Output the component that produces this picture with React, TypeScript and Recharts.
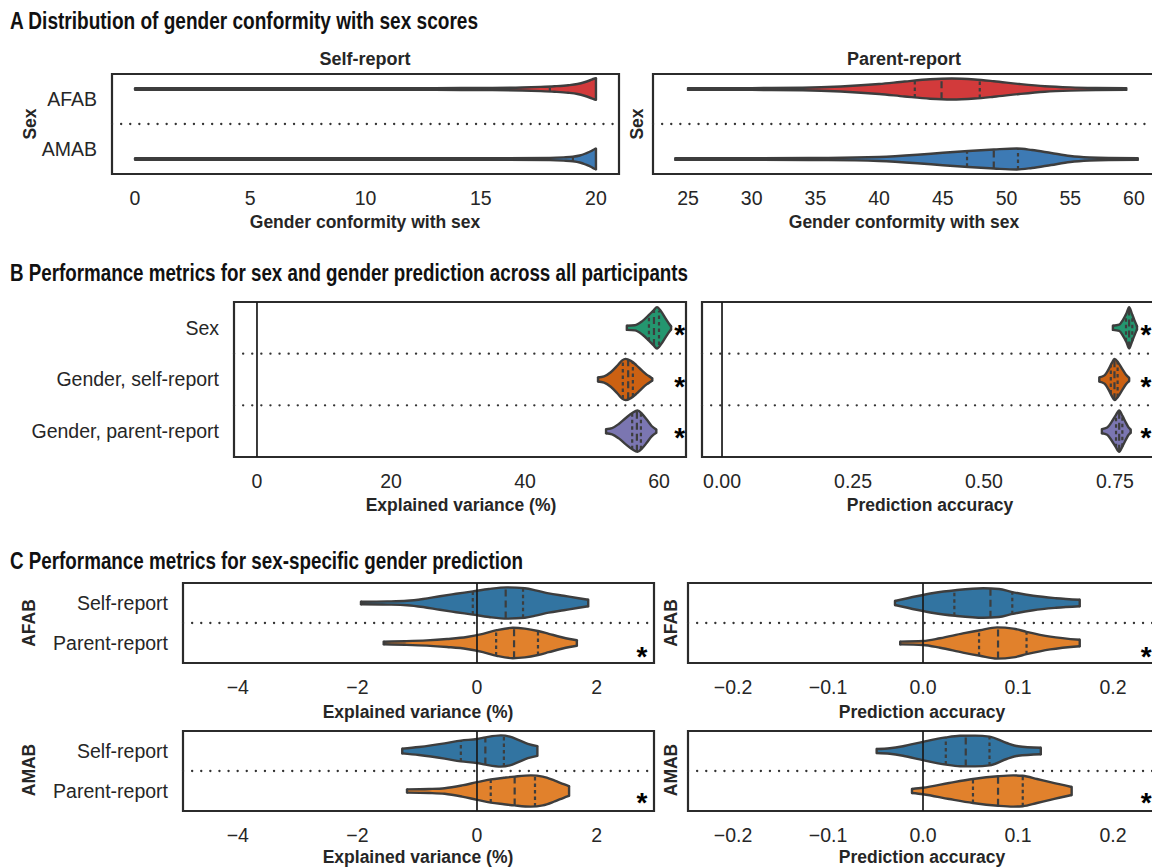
import React from 'react';
import { ComposedChart, Area, XAxis, YAxis, ReferenceLine, ReferenceArea, ReferenceDot } from 'recharts';

type Pt = [number, number]; // [value, half-width in category units]

// ---------- categories & ticks ----------
const sexCats = ['AFAB', 'AMAB'];
const predCats = ['Sex', 'Gender, self-report', 'Gender, parent-report'];
const reportCats = ['Self-report', 'Parent-report'];
const aSelfTicks = [0, 5, 10, 15, 20];
const aParTicks = [25, 30, 35, 40, 45, 50, 55, 60];
const bEvTicks = [0, 20, 40, 60];
const bAccTicks = [0, 0.25, 0.5, 0.75];
const cEvTicks = [-4, -2, 0, 2];
const cAccTicks = [-0.2, -0.1, 0, 0.1, 0.2];

// ---------- Panel A: self-report ----------
const aSelfAFAB: Pt[] = [[0, 0.015], [8, 0.015], [13, 0.018], [15.5, 0.022], [16.8, 0.03], [17.6, 0.042], [18.2, 0.055], [18.8, 0.075], [19.2, 0.1], [19.5, 0.135], [19.75, 0.175], [19.92, 0.205], [20, 0.215]];
const aSelfAFABq: Pt[] = [[18.0, 0.05]];
const aSelfAMAB: Pt[] = [[0, 0.015], [10, 0.015], [16, 0.017], [18, 0.022], [18.6, 0.032], [19, 0.045], [19.3, 0.07], [19.55, 0.11], [19.8, 0.16], [19.93, 0.195], [20, 0.205]];
const aSelfAMABq: Pt[] = [[19.0, 0.045]];
// ---------- Panel A: parent-report ----------
const aParAFAB: Pt[] = [[25.0, 0.018], [30, 0.018], [34, 0.025], [37, 0.05], [40, 0.1], [42, 0.15], [44, 0.195], [45.7, 0.21], [47.5, 0.19], [49, 0.155], [51, 0.1], [53, 0.055], [55, 0.032], [57, 0.022], [59.4, 0.018]];
const aParAFABq: Pt[] = [[42.8, 0.17], [44.9, 0.205], [47.9, 0.18]];
const aParAMAB: Pt[] = [[24.0, 0.018], [30, 0.018], [36, 0.022], [40, 0.04], [43, 0.085], [45, 0.125], [47, 0.16], [49, 0.19], [50.8, 0.21], [52, 0.18], [53.5, 0.12], [55, 0.06], [56.5, 0.03], [58, 0.02], [60.3, 0.018]];
const aParAMABq: Pt[] = [[46.9, 0.155], [49.0, 0.19], [50.9, 0.21]];

// ---------- Panel B: explained variance ----------
const bEvSex: Pt[] = [[55.2, 0.04], [56.4, 0.05], [57.5, 0.13], [58.5, 0.25], [59.2, 0.34], [59.7, 0.4], [60.3, 0.32], [61, 0.18], [61.5, 0.08], [61.8, 0.03]];
const bEvSexQ: Pt[] = [[58.5, 0.25], [59.25, 0.35], [60.0, 0.33]];
const bEvSelf: Pt[] = [[50.9, 0.04], [51.8, 0.06], [52.8, 0.14], [53.8, 0.27], [54.5, 0.37], [55, 0.4], [55.8, 0.36], [56.6, 0.28], [57.4, 0.18], [58.2, 0.09], [58.8, 0.04], [59, 0.02]];
const bEvSelfQ: Pt[] = [[54.6, 0.37], [55.4, 0.38], [56.1, 0.33]];
const bEvPar: Pt[] = [[52.1, 0.04], [53, 0.06], [54, 0.14], [55, 0.25], [56, 0.35], [56.8, 0.4], [57.5, 0.33], [58.2, 0.22], [58.9, 0.1], [59.6, 0.03]];
const bEvParQ: Pt[] = [[56.0, 0.35], [56.7, 0.4], [57.3, 0.35]];
const bEvStars: Pt[] = [[63.1, 0.02], [63.1, 1.03], [63.1, 2.02]];
// ---------- Panel B: prediction accuracy ----------
const bAccSex: Pt[] = [[0.746, 0.04], [0.758, 0.06], [0.765, 0.15], [0.772, 0.28], [0.777, 0.4], [0.782, 0.28], [0.787, 0.15], [0.792, 0.03]];
const bAccSexQ: Pt[] = [[0.771, 0.26], [0.777, 0.4], [0.783, 0.26]];
const bAccSelf: Pt[] = [[0.72, 0.04], [0.73, 0.08], [0.738, 0.2], [0.744, 0.32], [0.749, 0.4], [0.756, 0.33], [0.764, 0.2], [0.771, 0.09], [0.777, 0.03]];
const bAccSelfQ: Pt[] = [[0.742, 0.27], [0.749, 0.4], [0.755, 0.34]];
const bAccPar: Pt[] = [[0.725, 0.04], [0.735, 0.07], [0.743, 0.17], [0.751, 0.3], [0.758, 0.4], [0.764, 0.3], [0.771, 0.16], [0.776, 0.07], [0.78, 0.03]];
const bAccParQ: Pt[] = [[0.752, 0.31], [0.758, 0.4], [0.764, 0.3]];
const bAccStars: Pt[] = [[0.809, 0.02], [0.809, 1.03], [0.809, 2.02]];

// ---------- Panel C: AFAB ----------
const cEvAfabSelf: Pt[] = [[-1.94, 0.033], [-1.5, 0.04], [-1.17, 0.055], [-0.9, 0.1], [-0.62, 0.17], [-0.35, 0.23], [-0.07, 0.29], [0.2, 0.35], [0.5, 0.39], [0.8, 0.37], [1.0, 0.31], [1.2, 0.24], [1.45, 0.18], [1.7, 0.12], [1.86, 0.08]];
const cEvAfabSelfQ: Pt[] = [[-0.07, 0.29], [0.48, 0.39], [0.77, 0.37]];
const cEvAfabPar: Pt[] = [[-1.56, 0.033], [-1.2, 0.045], [-0.84, 0.065], [-0.5, 0.1], [-0.17, 0.15], [0.1, 0.23], [0.33, 0.32], [0.6, 0.38], [0.8, 0.36], [1.02, 0.3], [1.2, 0.23], [1.4, 0.15], [1.55, 0.1], [1.67, 0.07]];
const cEvAfabParQ: Pt[] = [[0.32, 0.31], [0.62, 0.38], [1.02, 0.3]];
const cAccAfabSelf: Pt[] = [[-0.0295, 0.05], [-0.0067, 0.17], [0.011, 0.25], [0.034, 0.32], [0.0635, 0.37], [0.08, 0.35], [0.093, 0.28], [0.116, 0.18], [0.14, 0.12], [0.165, 0.08]];
const cAccAfabSelfQ: Pt[] = [[0.033, 0.32], [0.071, 0.37], [0.094, 0.28]];
const cAccAfabPar: Pt[] = [[-0.024, 0.035], [0.0, 0.05], [0.018, 0.12], [0.042, 0.24], [0.06, 0.32], [0.078, 0.39], [0.095, 0.36], [0.109, 0.28], [0.134, 0.16], [0.165, 0.08]];
const cAccAfabParQ: Pt[] = [[0.059, 0.32], [0.079, 0.39], [0.109, 0.28]];
// ---------- Panel C: AMAB ----------
const cEvAmabSelf: Pt[] = [[-1.25, 0.06], [-0.97, 0.1], [-0.54, 0.19], [-0.27, 0.26], [0, 0.3], [0.14, 0.34], [0.4, 0.39], [0.55, 0.36], [0.7, 0.27], [0.85, 0.18], [1.01, 0.12]];
const cEvAmabSelfQ: Pt[] = [[-0.27, 0.26], [0.14, 0.34], [0.45, 0.39]];
const cEvAmabPar: Pt[] = [[-1.17, 0.04], [-0.8, 0.05], [-0.54, 0.07], [-0.25, 0.14], [0, 0.22], [0.23, 0.29], [0.45, 0.33], [0.63, 0.36], [0.9, 0.39], [1.1, 0.36], [1.3, 0.26], [1.45, 0.17], [1.54, 0.12]];
const cEvAmabParQ: Pt[] = [[0.23, 0.29], [0.63, 0.36], [0.97, 0.39]];
const cAccAmabSelf: Pt[] = [[-0.0488, 0.05], [-0.035, 0.07], [-0.021, 0.12], [0, 0.23], [0.024, 0.34], [0.039, 0.38], [0.055, 0.385], [0.07, 0.36], [0.088, 0.2], [0.1, 0.12], [0.124, 0.08]];
const cAccAmabSelfQ: Pt[] = [[0.024, 0.34], [0.045, 0.385], [0.07, 0.36]];
const cAccAmabPar: Pt[] = [[-0.0116, 0.05], [0, 0.08], [0.0275, 0.2], [0.0526, 0.3], [0.079, 0.37], [0.095, 0.39], [0.105, 0.38], [0.12, 0.3], [0.134, 0.22], [0.1565, 0.1]];
const cAccAmabParQ: Pt[] = [[0.0526, 0.3], [0.079, 0.37], [0.105, 0.38]];
const cEvStars: Pt[] = [[2.76, 1.2]];
const cAccStars: Pt[] = [[0.235, 1.2]];
const cEvStars2: Pt[] = [[2.76, 1.15]];
const cAccStars2: Pt[] = [[0.235, 1.15]];

// ---------- styles ----------
const FONT = "'Liberation Sans', Arial, Helvetica, sans-serif";
const INK = '#262626';
const EDGE = '#3d3d3d';
const RED = '#d23a3b';
const BLUE_A = '#3d7ab4';
const GREEN = '#24966f';
const ORANGE_B = '#cc6112';
const PURPLE = '#7b76b1';
const BLUE_C = '#3274a1';
const ORANGE_C = '#e1812c';

interface ViolinSpec { center: number; pts: Pt[]; quart: Pt[]; fill: string; }
interface PanelSpec {
  left: number; top: number; boxW: number; boxH: number; yw: number;
  domain: [number, number]; ticks: number[]; fmt: (v: number) => string;
  cats: string[]; showCats: boolean; violins: ViolinSpec[]; zero: boolean; stars: Pt[];
}

const fmtInt = (v: number) => (v < 0 ? '\u2212' + Math.abs(v) : String(v));
const fmt2 = (v: number) => v.toFixed(2);
const fmt1 = (v: number) => (v < -1e-9 ? '\u2212' + Math.abs(v).toFixed(1) : Math.abs(v).toFixed(1));

const panels: PanelSpec[] = [
  { left: 112, top: 74, boxW: 507, boxH: 100, yw: 112, domain: [-1, 21], ticks: aSelfTicks, fmt: fmtInt, cats: sexCats, showCats: true, zero: false, stars: [],
    violins: [{ center: -0.2, pts: aSelfAFAB, quart: aSelfAFABq, fill: RED }, { center: 1.2, pts: aSelfAMAB, quart: aSelfAMABq, fill: BLUE_A }] },
  { left: 653, top: 74, boxW: 504, boxH: 100, yw: 20, domain: [22.253, 61.81], ticks: aParTicks, fmt: fmtInt, cats: sexCats, showCats: false, zero: false, stars: [],
    violins: [{ center: -0.2, pts: aParAFAB, quart: aParAFABq, fill: RED }, { center: 1.2, pts: aParAMAB, quart: aParAMABq, fill: BLUE_A }] },
  { left: 234, top: 302, boxW: 452, boxH: 155, yw: 234, domain: [-3.43, 64.03], ticks: bEvTicks, fmt: fmtInt, cats: predCats, showCats: true, zero: true, stars: bEvStars,
    violins: [{ center: 0, pts: bEvSex, quart: bEvSexQ, fill: GREEN }, { center: 1, pts: bEvSelf, quart: bEvSelfQ, fill: ORANGE_B }, { center: 2, pts: bEvPar, quart: bEvParQ, fill: PURPLE }] },
  { left: 702, top: 302, boxW: 460, boxH: 155, yw: 20, domain: [-0.0382, 0.8397], ticks: bAccTicks, fmt: fmt2, cats: predCats, showCats: false, zero: true, stars: bAccStars,
    violins: [{ center: 0, pts: bAccSex, quart: bAccSexQ, fill: GREEN }, { center: 1, pts: bAccSelf, quart: bAccSelfQ, fill: ORANGE_B }, { center: 2, pts: bAccPar, quart: bAccParQ, fill: PURPLE }] },
  { left: 183, top: 583, boxW: 471, boxH: 80, yw: 183, domain: [-4.916, 2.96], ticks: cEvTicks, fmt: fmtInt, cats: reportCats, showCats: true, zero: true, stars: cEvStars,
    violins: [{ center: 0, pts: cEvAfabSelf, quart: cEvAfabSelfQ, fill: BLUE_C }, { center: 1, pts: cEvAfabPar, quart: cEvAfabParQ, fill: ORANGE_C }] },
  { left: 688, top: 583, boxW: 474, boxH: 80, yw: 20, domain: [-0.2474, 0.2516], ticks: cAccTicks, fmt: fmt1, cats: reportCats, showCats: false, zero: true, stars: cAccStars,
    violins: [{ center: 0, pts: cAccAfabSelf, quart: cAccAfabSelfQ, fill: BLUE_C }, { center: 1, pts: cAccAfabPar, quart: cAccAfabParQ, fill: ORANGE_C }] },
  { left: 183, top: 731, boxW: 471, boxH: 80, yw: 183, domain: [-4.916, 2.96], ticks: cEvTicks, fmt: fmtInt, cats: reportCats, showCats: true, zero: true, stars: cEvStars2,
    violins: [{ center: 0, pts: cEvAmabSelf, quart: cEvAmabSelfQ, fill: BLUE_C }, { center: 1, pts: cEvAmabPar, quart: cEvAmabParQ, fill: ORANGE_C }] },
  { left: 688, top: 731, boxW: 474, boxH: 80, yw: 20, domain: [-0.2474, 0.2516], ticks: cAccTicks, fmt: fmt1, cats: reportCats, showCats: false, zero: true, stars: cAccStars2,
    violins: [{ center: 0, pts: cAccAmabSelf, quart: cAccAmabSelfQ, fill: BLUE_C }, { center: 1, pts: cAccAmabPar, quart: cAccAmabParQ, fill: ORANGE_C }] },
];

const STAR_FS = 28;
const starShape = (props: any) => (
  <text x={props.cx} y={props.cy + STAR_FS * 0.53} textAnchor="middle" fontSize={STAR_FS} fontWeight="bold" fontFamily={FONT} fill="#000">*</text>
);

function Panel({ p }: { p: PanelSpec }) {
  const n = p.cats.length;
  const mt = 4, mr = 4, xh = 34;
  const W = p.yw + p.boxW + mr;
  const H = mt + p.boxH + xh;
  const seps = p.cats.slice(1).map((_, i) => i + 0.5);
  const tickStyle = { fill: INK, fontSize: 19.5, fontFamily: FONT };
  return (
    <div style={{ position: 'absolute', left: p.left - p.yw, top: p.top - mt }}>
      <ComposedChart width={W} height={H} margin={{ top: mt, right: mr, bottom: 0, left: 0 }}>
        <XAxis type="number" dataKey="v" domain={p.domain} allowDataOverflow ticks={p.ticks} interval={0}
          tickFormatter={p.fmt} axisLine={false} tickLine={false} tickSize={0} tickMargin={17} height={xh} tick={tickStyle} />
        <YAxis type="number" domain={[-0.5, n - 0.5]} allowDataOverflow reversed ticks={p.cats.map((_, i) => i)} interval={0}
          tickFormatter={(v: number) => p.cats[v] ?? ''} axisLine={false} tickLine={false} tickSize={0} tickMargin={15}
          width={p.yw} tick={p.showCats ? tickStyle : false} />
        {seps.map((s) => (
          <ReferenceLine key={'sep' + s} y={s} stroke="#333" strokeWidth={2.3} strokeDasharray="0.1 9" strokeLinecap="round" />
        ))}
        {p.zero && <ReferenceLine x={0} stroke="#1a1a1a" strokeWidth={1.7} />}
        {p.violins.map((vl, i) => (
          <Area key={'v' + i} data={vl.pts.map(([v, h]) => ({ v, r: [vl.center - h, vl.center + h] }))} dataKey="r"
            type="monotone" fill={vl.fill} fillOpacity={1} stroke={EDGE} strokeWidth={2.4} isAnimationActive={false}
            dot={false} activeDot={false} />
        ))}
        {p.violins.map((vl, i) => {
          const ends = [vl.pts[0], vl.pts[vl.pts.length - 1]];
          return ends.map(([v, h], j) => (
            <ReferenceLine key={'cap' + i + '-' + j} segment={[{ x: v, y: vl.center - h }, { x: v, y: vl.center + h }]}
              stroke={EDGE} strokeWidth={2.4} strokeLinecap="round" ifOverflow="visible" />
          ));
        })}
        {p.violins.map((vl, i) =>
          vl.quart.map(([v, h], j) => (
            <ReferenceLine key={'q' + i + '-' + j} segment={[{ x: v, y: vl.center + h }, { x: v, y: vl.center - h }]}
              stroke={EDGE} strokeWidth={2.2} strokeDasharray={vl.quart.length === 3 && j === 1 ? '7 4' : '3.5 3'} ifOverflow="visible" />
          ))
        )}
        {p.stars.map(([x, y], i) => (
          <ReferenceDot key={'st' + i} x={x} y={y} r={0} shape={starShape} ifOverflow="visible" />
        ))}
        <ReferenceArea x1={p.domain[0]} x2={p.domain[1]} y1={-0.5} y2={n - 0.5} fill="none" stroke="#2b2b2b"
          strokeWidth={2.2} ifOverflow="visible" />
      </ComposedChart>
    </div>
  );
}

const headings = [
  { text: 'A Distribution of gender conformity with sex scores', x: 10, y: 29, len: 468 },
  { text: 'B Performance metrics for sex and gender prediction across all participants', x: 10, y: 281, len: 678 },
  { text: 'C Performance metrics for sex-specific gender prediction', x: 10, y: 569, len: 513 },
];
const titles = [
  { text: 'Self-report', x: 365, y: 64.5 },
  { text: 'Parent-report', x: 904, y: 64.5 },
];
const axisLabels = [
  { text: 'Gender conformity with sex', x: 365, y: 228 },
  { text: 'Gender conformity with sex', x: 904, y: 228 },
  { text: 'Explained variance (%)', x: 461, y: 511 },
  { text: 'Prediction accuracy', x: 930, y: 511 },
  { text: 'Explained variance (%)', x: 418, y: 718 },
  { text: 'Prediction accuracy', x: 922, y: 718 },
  { text: 'Explained variance (%)', x: 418, y: 863 },
  { text: 'Prediction accuracy', x: 922, y: 863 },
];
const sideLabels = [
  { text: 'Sex', x: 30, y: 124 },
  { text: 'Sex', x: 637, y: 124 },
  { text: 'AFAB', x: 29, y: 623 },
  { text: 'AFAB', x: 671, y: 623 },
  { text: 'AMAB', x: 29, y: 770 },
  { text: 'AMAB', x: 671, y: 770 },
];

export default function App() {
  return (
    <div style={{ position: 'fixed', left: 0, top: 0, width: 1152, height: 867, overflow: 'hidden', background: '#fff', fontFamily: FONT }}>
      {panels.map((p, i) => <Panel key={i} p={p} />)}
      <svg width={1152} height={867} style={{ position: 'absolute', left: 0, top: 0, pointerEvents: 'none' }}>
        {headings.map((h, i) => (
          <text key={'h' + i} x={h.x} y={h.y} textLength={h.len} lengthAdjust="spacingAndGlyphs" fontSize={23}
            fontWeight="bold" fontFamily={FONT} fill="#111">{h.text}</text>
        ))}
        {titles.map((t, i) => (
          <text key={'t' + i} x={t.x} y={t.y} textAnchor="middle" fontSize={18} fontWeight="bold" fontFamily={FONT} fill={INK}>{t.text}</text>
        ))}
        {axisLabels.map((t, i) => (
          <text key={'al' + i} x={t.x} y={t.y} textAnchor="middle" fontSize={17.5} fontWeight="bold" fontFamily={FONT} fill={INK}>{t.text}</text>
        ))}
        {sideLabels.map((t, i) => (
          <text key={'sl' + i} x={t.x} y={t.y} textAnchor="middle" dominantBaseline="central" transform={`rotate(-90 ${t.x} ${t.y})`}
            fontSize={17.5} fontWeight="bold" fontFamily={FONT} fill={INK}>{t.text}</text>
        ))}
      </svg>
    </div>
  );
}
